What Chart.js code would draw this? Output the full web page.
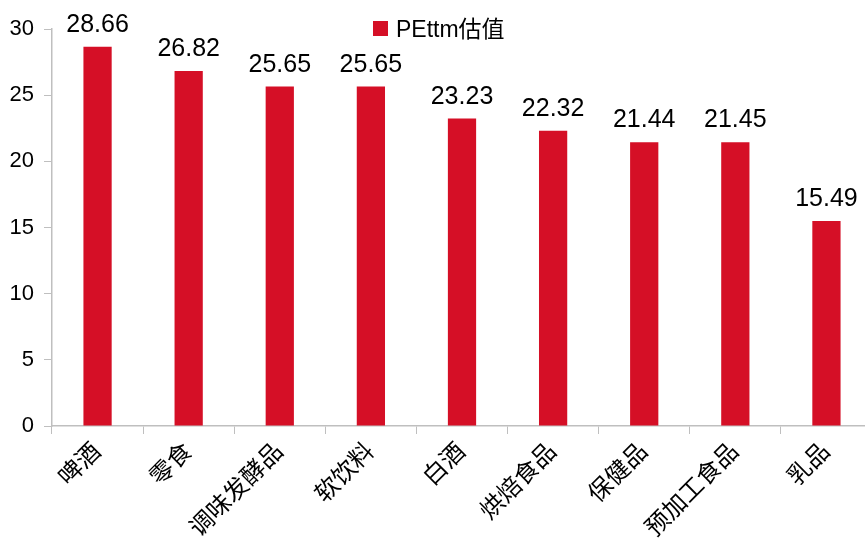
<!DOCTYPE html>
<html>
<head>
<meta charset="utf-8">
<script src="https://cdn.jsdelivr.net/npm/chart.js@4/dist/chart.umd.min.js"></script>
<style>
  html, body { margin: 0; padding: 0; background: #fff; overflow: hidden; }
  #wrap { width: 872px; height: 543px; }
</style>
</head>
<body>
<div id="wrap"><canvas id="myChart"></canvas></div>
<script>
const categorias = ["啤酒", "零食", "调味发酵品", "软饮料", "白酒", "烘焙食品", "保健品", "预加工食品", "乳品"];
const peValores = [28.66, 26.82, 25.65, 25.65, 23.23, 22.32, 21.44, 21.45, 15.49];
const yTicks = [0, 5, 10, 15, 20, 25, 30];

const fonte = '"Liberation Sans", Arial, "Noto Sans CJK SC", sans-serif';
const vermelho = "#d50f26";
const cinza = "#bfbfbf";

// valores em cima das barras + legenda dentro da área do gráfico
const rotulos = {
  id: "rotulos",
  afterDatasetsDraw(chart) {
    const ctx = chart.ctx;
    const meta = chart.getDatasetMeta(0);
    ctx.save();
    ctx.fillStyle = "#000";
    ctx.font = "25px " + fonte;
    ctx.textAlign = "center";
    ctx.textBaseline = "alphabetic";
    meta.data.forEach((bar, i) => {
      ctx.fillText(peValores[i].toFixed(2), bar.x, bar.y - 15);
    });

    ctx.fillStyle = vermelho;
    ctx.fillRect(373, 21, 15, 15);
    ctx.fillStyle = "#000";
    ctx.font = "23px " + fonte;
    ctx.textAlign = "left";
    ctx.fillText(chart.data.datasets[0].label, 396, 37);
    ctx.restore();
  }
};

const ctx2 = document.getElementById("myChart").getContext("2d");
const myChart = new Chart(ctx2, {
  type: "bar",
  data: {
    labels: categorias,
    datasets: [{
      label: "PEttm估值",
      data: peValores,
      backgroundColor: vermelho,
      borderWidth: 0,
      barPercentage: 0.62,
      categoryPercentage: 0.5,
    }],
  },
  options: {
    responsive: true,
    maintainAspectRatio: false,
    animation: false,
    layout: { padding: { top: 29, right: 0, left: 0, bottom: 0 } },
    plugins: {
      legend: { display: false },
      tooltip: { enabled: false },
    },
    scales: {
      x: {
        grid: {
          display: true,
          drawOnChartArea: false,
          drawTicks: true,
          tickLength: 8,
          color: cinza,
        },
        border: { display: true, color: cinza, width: 1.5 },
        ticks: {
          color: "#000",
          font: { family: fonte, size: 24 },
          maxRotation: 45,
          minRotation: 45,
          padding: 4,
          autoSkip: false,
        },
        afterFit(scale) { scale.height = 117; },
      },
      y: {
        min: 0,
        max: 30,
        afterBuildTicks(scale) {
          scale.ticks = yTicks.map(v => ({ value: v }));
        },
        grid: {
          display: true,
          drawOnChartArea: false,
          drawTicks: true,
          tickLength: 8,
          color: cinza,
        },
        border: { display: true, color: cinza, width: 1.5 },
        ticks: {
          color: "#000",
          font: { family: fonte, size: 22 },
          padding: 10,
        },
        afterFit(scale) { scale.width = 52; },
      },
    },
  },
  plugins: [rotulos],
});
</script>
</body>
</html>
